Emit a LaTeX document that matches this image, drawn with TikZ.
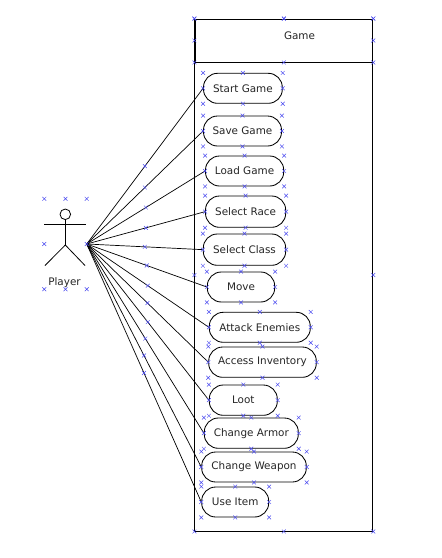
\documentclass[tikz,border=0pt]{standalone}
\usepackage{fontspec}
\setmainfont{DejaVu Sans}
\definecolor{handleblue}{HTML}{4A4AF0}
\tikzset{
  x=1pt,y=-1pt,
  every node/.style={font=\fontsize{10.4}{12}\selectfont,text=black!85},
  usecase/.style={draw=black,line width=0.85pt,rounded corners=14pt,inner sep=0pt,text=black!85},
  box/.style={draw=black,line width=0.9pt,inner sep=0pt},
  link/.style={draw=black,line width=0.7pt},
  stick/.style={draw=black,line width=0.8pt},
  hnd/.pic={\draw[handleblue,line width=0.5pt] (-1.9,-1.9)--(1.9,1.9) (-1.9,1.9)--(1.9,-1.9);}
}
\newcommand{\ucase}[6]{%
  \pgfmathsetmacro{\ucx}{(#2+#3)/2}\pgfmathsetmacro{\ucy}{(#4+#5)/2}%
  \pgfmathsetmacro{\ucw}{#3-#2}\pgfmathsetmacro{\uch}{#5-#4}%
  \node[usecase,minimum width=\ucw pt,minimum height=\uch pt] (#1) at (\ucx,\ucy) {#6};%
}
\newcommand{\handleset}[1]{%
  \foreach \an in {north west,north,north east,west,east,south west,south,south east}{\pic at (#1.\an) {hnd};}%
}
\begin{document}
\begin{tikzpicture}
\useasboundingbox (0,0) rectangle (442,558);
\fill[white] (0,0) rectangle (442,558);
% system
\node[box,minimum width=178pt,minimum height=512pt] (system) at (283.85,275) {};
\node[box,minimum width=178pt,minimum height=43pt] (header) at (283.85,40.5) {};
\draw[line width=2pt] ([xshift=0.4pt]header.north west) -- ([xshift=0.4pt]header.south west);
\node (gametitle) at (299.5,36) {Game};
% use cases
\ucase{start}{203.5}{282.3}{73.3}{103.3}{Start Game}
\ucase{save}{203.5}{281.5}{116}{146}{Save Game}
\ucase{load}{205.5}{283.7}{156}{186}{Load Game}
\ucase{race}{205.5}{285.7}{196}{227.3}{Select Race}
\ucase{class}{203.3}{285.7}{234}{265.3}{Select Class}
\ucase{move}{207.3}{274.7}{272}{302}{Move}
\ucase{attack}{209.3}{310.3}{312.3}{342.3}{Attack Enemies}
\ucase{inv}{208.7}{316.3}{347}{377.3}{Access Inventory}
\ucase{loot}{209.3}{277.3}{385}{415.3}{Loot}
\ucase{armor}{204.3}{298.3}{418}{448.3}{Change Armor}
\ucase{weapon}{201.7}{306.3}{452}{482}{Change Weapon}
\ucase{item}{201.7}{268.7}{487}{517}{Use Item}
% actor
\node[minimum width=42pt,minimum height=90pt,inner sep=0pt] (player) at (65.5,244) {};
\node (playerlabel) at (64.5,282.5) {Player};
\node[draw=black,line width=0.8pt,circle,minimum size=10.6pt,inner sep=0pt] (head) at (65.3,214.3) {};
\coordinate (hip) at (65.3,245);
\draw[stick] (head.south) -- (hip);
\draw[stick] (44,224.3) -- (86,224.3);
\draw[stick] (45,265.5) -- (hip) -- (85,265.5);
% connectors
\foreach \u in {start,save,load,race,class,move,attack,inv,loot,armor,weapon,item}{
  \draw[link] (player.east) -- (\u.west) pic[pos=0.5] {hnd};
}
% handles
\foreach \u in {start,save,load,race,class,move,attack,inv,loot,armor,weapon,item,player,system,header}{\handleset{\u}}
\end{tikzpicture}
\end{document}
